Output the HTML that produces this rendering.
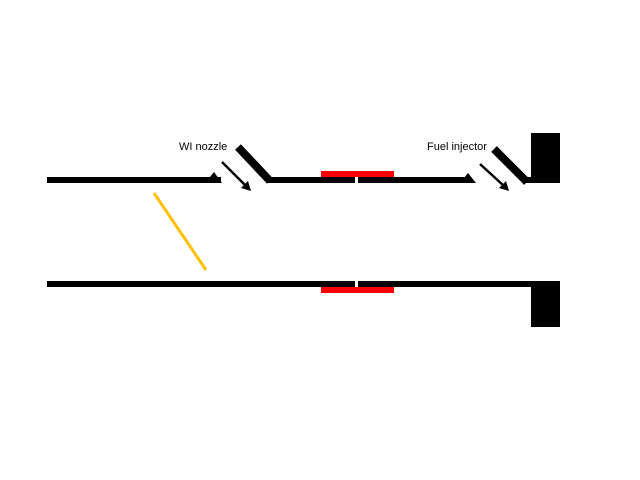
<!DOCTYPE html>
<html><head><style>body{margin:0;background:#fff}</style></head><body>
<svg width="640" height="480" xmlns="http://www.w3.org/2000/svg" style="display:block">
<rect width="640" height="480" fill="#fff"/>
<!-- top wall -->
<rect x="47" y="177" width="174" height="6" fill="#000"/>
<polygon points="205,183 214,172 222,183" fill="#000"/>
<rect x="268" y="177" width="87" height="6" fill="#000"/>
<rect x="358" y="177" width="109" height="6" fill="#000"/>
<polygon points="460,183 468,173 476,183" fill="#000"/>
<rect x="525" y="177" width="35" height="6" fill="#000"/>
<rect x="531" y="133" width="29" height="50" fill="#000"/>
<line x1="238" y1="147" x2="270" y2="181" stroke="#000" stroke-width="8"/>
<line x1="494" y1="149" x2="527" y2="182" stroke="#000" stroke-width="8"/>
<!-- arrows -->
<line x1="222" y1="162" x2="246" y2="186" stroke="#000" stroke-width="2.5"/>
<polygon points="251,191 241,188 248,181" fill="#000"/>
<line x1="480" y1="164" x2="504" y2="186" stroke="#000" stroke-width="2.5"/>
<polygon points="509,191 499,188 506,181" fill="#000"/>
<!-- red -->
<rect x="321" y="171" width="73" height="6" fill="#f00"/>
<rect x="321" y="287" width="73" height="6" fill="#f00"/>
<!-- bottom wall -->
<rect x="47" y="281" width="308" height="6" fill="#000"/>
<rect x="358" y="281" width="202" height="6" fill="#000"/>
<rect x="531" y="281" width="29" height="46" fill="#000"/>
<!-- yellow -->
<line x1="154" y1="193" x2="206" y2="270" stroke="#FFC000" stroke-width="3"/>
<text x="179" y="150" font-family="Liberation Sans, sans-serif" font-size="11" fill="#000">WI nozzle</text>
<text x="427" y="150" font-family="Liberation Sans, sans-serif" font-size="11" fill="#000">Fuel injector</text>
</svg>
</body></html>
